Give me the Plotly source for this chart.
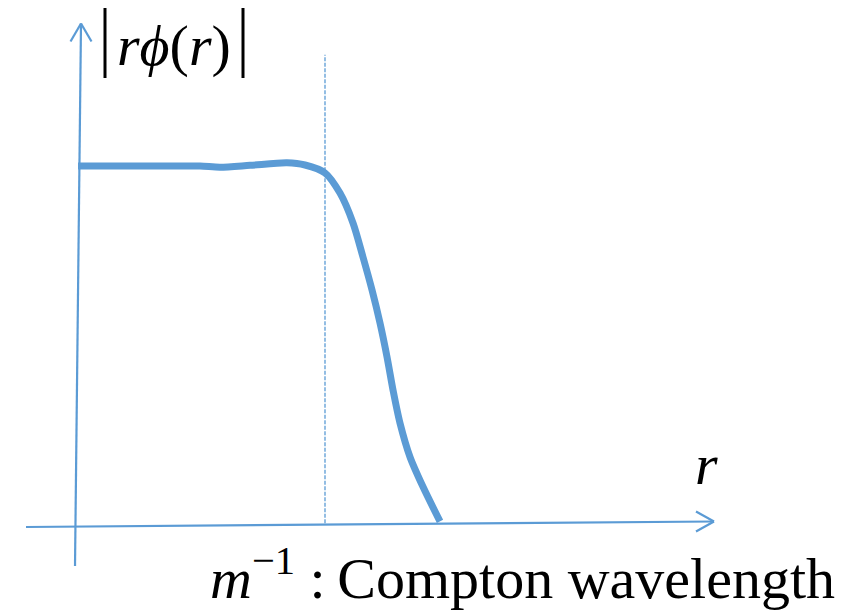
import plotly.graph_objects as go

# Radial profile |r·phi(r)|: flat inside the Compton wavelength, dropping to zero outside.
# r is measured in units of the Compton wavelength m^-1, the profile in units of its plateau.
r_values = [0.012, 0.18, 0.34, 0.50, 0.58, 0.70, 0.848, 0.92, 1.00, 1.06, 1.112,
            1.152, 1.188, 1.22, 1.248, 1.272, 1.30, 1.34, 1.392, 1.46]
profile = [0.997, 0.997, 0.997, 0.997, 0.994, 0.999, 1.006, 1.000, 0.978, 0.922, 0.839,
           0.744, 0.653, 0.561, 0.467, 0.375, 0.283, 0.189, 0.106, 0.010]
compton_r = 1.0
marker_top = 1.306

W, H = 851, 612
BLUE = "#5B9BD5"
SERIF = "Liberation Serif"


def px(x, y):
    """Pixel position on the page -> paper coordinates."""
    return x / W, 1 - y / H


def seg(p0, p1, color=BLUE, width=2.2, dash="solid"):
    x0, y0 = px(*p0)
    x1, y1 = px(*p1)
    return dict(type="line", xref="paper", yref="paper", x0=x0, y0=y0, x1=x1, y1=y1,
                line=dict(color=color, width=width, dash=dash), layer="below")


fig = go.Figure()
fig.add_trace(go.Scatter(x=r_values, y=profile, mode="lines",
                         line=dict(color=BLUE, width=7, shape="spline", smoothing=0.8),
                         hoverinfo="skip"))

shapes = [
    # r axis with open arrow head
    seg((26, 527), (714, 521.5)),
    seg((696, 511.5), (714, 521.5)),
    seg((696, 531.5), (714, 521.5)),
    # ordinate with open arrow head
    seg((75, 566), (81, 23.5)),
    seg((70.5, 41.5), (81, 23.5)),
    seg((91.5, 41.5), (81, 23.5)),
    # absolute-value bars of the ordinate label
    seg((105, 8), (105, 78), color="black", width=3),
    seg((243, 8), (243, 78), color="black", width=3),
    # Compton wavelength marker
    dict(type="line", xref="x", yref="y", x0=compton_r, x1=compton_r, y0=0.005, y1=marker_top,
         line=dict(color=BLUE, width=1.3, dash="4px,1.5px"), layer="below"),
]

ax, ay = px(174, 46)
bx, by = px(706, 464)
cx, cy = px(208, 574)
annotations = [
    dict(x=ax, y=ay, xref="paper", yref="paper", text="<i>rϕ</i>(<i>r</i>)",
         showarrow=False, xanchor="center", yanchor="middle",
         font=dict(family=SERIF, size=58, color="black")),
    dict(x=bx, y=by, xref="paper", yref="paper", text="<i>r</i>",
         showarrow=False, xanchor="center", yanchor="middle",
         font=dict(family=SERIF, size=58, color="black")),
    dict(x=cx, y=cy, xref="paper", yref="paper",
         text="<i>m</i><sup>−1</sup> :\u2009Compton wavelength",
         showarrow=False, xanchor="left", yanchor="middle",
         font=dict(family=SERIF, size=58, color="black")),
]

fig.update_layout(
    width=W, height=H,
    margin=dict(l=0, r=0, t=0, b=0),
    paper_bgcolor="white", plot_bgcolor="white",
    showlegend=False,
    font=dict(family=SERIF),
    xaxis=dict(range=[-0.3, 3.104], visible=False, fixedrange=True),
    yaxis=dict(range=[-0.24167, 1.458333], visible=False, fixedrange=True),
    shapes=shapes,
    annotations=annotations,
)

fig.write_html("out.html")
